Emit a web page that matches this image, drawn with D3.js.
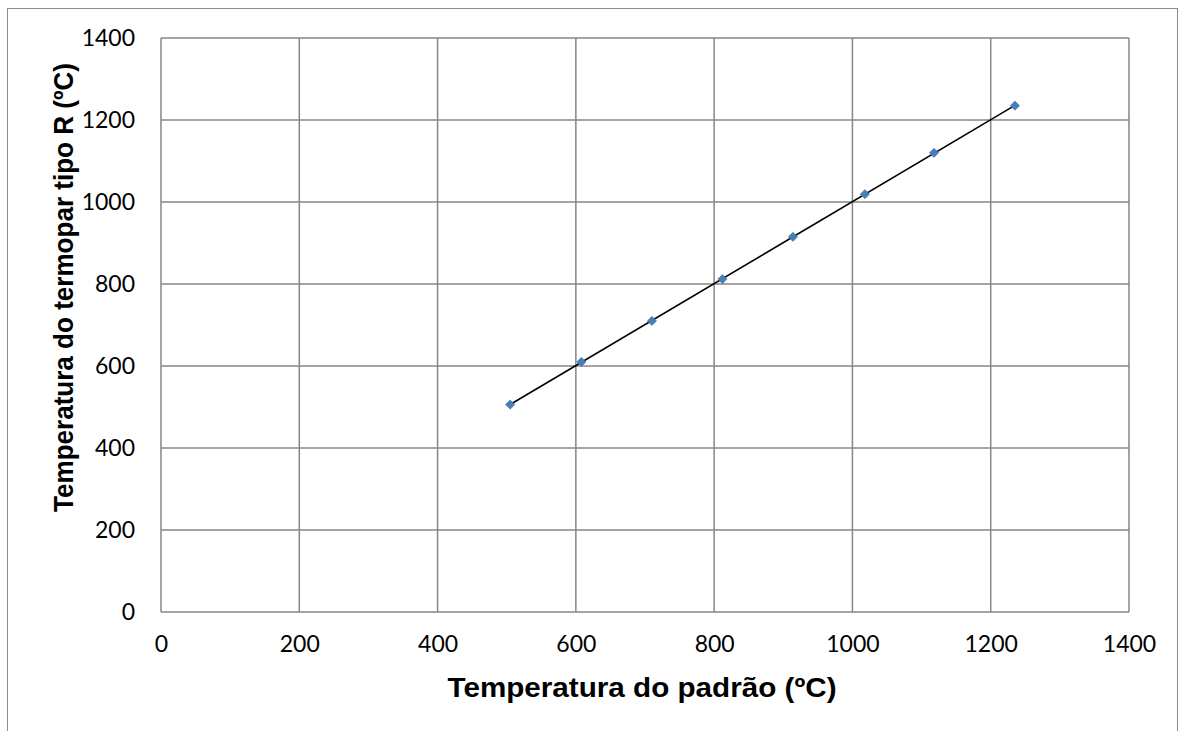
<!DOCTYPE html>
<html><head><meta charset="utf-8">
<script src="https://cdn.jsdelivr.net/npm/d3@7"></script>
<style>body{margin:0;background:#fff}svg{display:block}</style>
</head><body>
<script>
const padrao = [505, 608, 710, 812, 914, 1018, 1118, 1235];
const termopar = [506, 610, 710, 812, 915, 1019, 1120, 1235];
const xTicks = [0, 200, 400, 600, 800, 1000, 1200, 1400];
const yTicks = [0, 200, 400, 600, 800, 1000, 1200, 1400];
const xTitle = "Temperatura do padrão (ºC)";
const yTitle = "Temperatura do termopar tipo R (ºC)";

const W = 1179, H = 731;
const svg = d3.select("body").append("svg").attr("width", W).attr("height", H);
svg.append("rect").attr("x", 7.5).attr("y", 8.5).attr("width", 1170).attr("height", 740)
  .attr("fill", "#fff").attr("stroke", "#8c8c8c").attr("stroke-width", 1);

const L = 161, R = 1129, T = 38, B = 612;
const x = d3.scaleLinear().domain([0, 1400]).range([L, R]);
const y = d3.scaleLinear().domain([0, 1400]).range([B, T]);
const grid = "#868686";
const tickFont = "Lato, 'Open Sans', sans-serif";

const g = svg.append("g");
g.selectAll(".vg").data(xTicks).join("line")
  .attr("x1", d => x(d)).attr("x2", d => x(d)).attr("y1", T).attr("y2", B)
  .attr("stroke", grid).attr("stroke-width", 1.5);
g.selectAll(".hg").data(yTicks).join("line")
  .attr("y1", d => y(d)).attr("y2", d => y(d)).attr("x1", L).attr("x2", R)
  .attr("stroke", grid).attr("stroke-width", 1.5);

const fmt = d3.format("d");
const xAxis = d3.axisBottom(x).tickValues(xTicks).tickFormat(fmt).tickSize(0).tickPadding(24);
const gx = svg.append("g").attr("transform", `translate(0,${B})`).call(xAxis);
gx.select(".domain").remove();
gx.selectAll("text").attr("font-family", tickFont).attr("font-size", 23).attr("fill", "#000");

const yAxis = d3.axisLeft(y).tickValues(yTicks).tickFormat(fmt).tickSize(0).tickPadding(26);
const gy = svg.append("g").attr("transform", `translate(${L},0)`).call(yAxis);
gy.select(".domain").remove();
gy.selectAll("text").attr("font-family", tickFont).attr("font-size", 23).attr("fill", "#000");

// linear trendline computed from the data
const mx = d3.mean(padrao), my = d3.mean(termopar);
const slope = d3.sum(padrao.map((v, i) => (v - mx) * (termopar[i] - my))) / d3.sum(padrao.map(v => (v - mx) ** 2));
const icpt = my - slope * mx;
const x0 = d3.min(padrao), x1 = d3.max(padrao);
svg.append("line").attr("x1", x(x0)).attr("y1", y(slope * x0 + icpt))
  .attr("x2", x(x1)).attr("y2", y(slope * x1 + icpt))
  .attr("stroke", "#000").attr("stroke-width", 1.6);

const pts = padrao.map((v, i) => [v, termopar[i]]);
svg.selectAll(".pt").data(pts).join("path")
  .attr("d", d3.symbol(d3.symbolDiamond2, 55))
  .attr("transform", d => `translate(${x(d[0])},${y(d[1])})`)
  .attr("fill", "#4a7ebb").attr("stroke", "#3a6aa5").attr("stroke-width", 0.5);

svg.append("text").attr("x", 642).attr("y", 697).attr("text-anchor", "middle")
  .attr("font-family", "'Liberation Sans', Arial, sans-serif").attr("font-weight", "bold")
  .attr("font-size", 28).attr("textLength", 389).attr("lengthAdjust", "spacingAndGlyphs").text(xTitle);
svg.append("text").attr("transform", "translate(73,287.5) rotate(-90)").attr("text-anchor", "middle")
  .attr("font-family", "'Liberation Sans', Arial, sans-serif").attr("font-weight", "bold")
  .attr("font-size", 28).attr("textLength", 449).attr("lengthAdjust", "spacingAndGlyphs").text(yTitle);
</script>
</body></html>
